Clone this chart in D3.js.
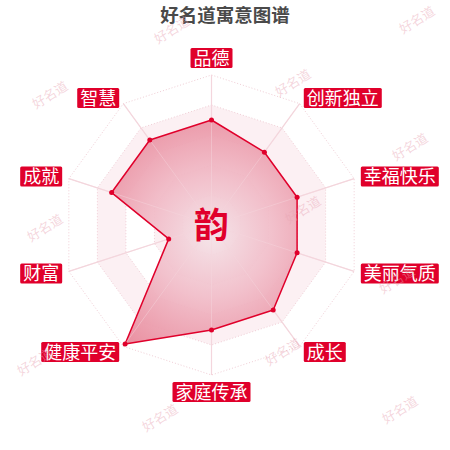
<!DOCTYPE html>
<html>
<head>
<meta charset="utf-8">
<script src="https://cdn.jsdelivr.net/npm/d3@7"></script>
<style>
  html, body { margin: 0; padding: 0; background: #fff; }
  svg { display: block; }
</style>
</head>
<body>
<svg id="chart" width="450" height="450"></svg>
<script>
const title = "好名道寓意图谱";
const centerChar = "韵";
const indicators = ["品德", "创新独立", "幸福快乐", "美丽气质", "成长", "家庭传承", "健康平安", "财富", "成就", "智慧"];
const values = [70, 60, 60, 60, 70, 70, 98, 30, 70, 70];
const maxValue = 100;
const levels = [20, 40, 60, 80, 100];
const watermarkText = "好名道";

const W = 450, H = 450;
const cx = 211.5, cy = 225, R = 150;
const RED = "#e0002b";
const FONT = "'Noto Sans CJK SC', 'Noto Sans', sans-serif";

const svg = d3.select("#chart");
const defs = svg.append("defs");

const grad = defs.append("radialGradient")
  .attr("id", "areaGrad").attr("gradientUnits", "userSpaceOnUse")
  .attr("cx", cx).attr("cy", cy + 12).attr("r", 135);
grad.append("stop").attr("offset", 0).attr("stop-color", "rgb(244,226,231)");
grad.append("stop").attr("offset", 0.45).attr("stop-color", "rgb(241,188,200)");
grad.append("stop").attr("offset", 1).attr("stop-color", "rgb(232,136,154)");

const n = indicators.length;
const angle = d3.scaleLinear().domain([0, n]).range([0, 2 * Math.PI]);
const rScale = d3.scaleLinear().domain([0, maxValue]).range([0, R]);
const pt = (i, r) => [cx + r * Math.sin(angle(i)), cy - r * Math.cos(angle(i))];

const g = svg.append("g");

// split areas (alternating rings)
const ringFills = ["#ffffff", "#fcf0f3", "#ffffff", "#fcf0f3", "#ffffff"];
for (let k = levels.length - 1; k >= 0; k--) {
  const r = rScale(levels[k]);
  const poly = d3.range(n).map(i => pt(i, r));
  g.append("path")
    .attr("d", d3.line()(poly) + "Z")
    .attr("fill", ringFills[k]);
}

// grid polygons (dotted)
levels.forEach(l => {
  const r = rScale(l);
  const poly = d3.range(n).map(i => pt(i, r));
  g.append("path")
    .attr("d", d3.line()(poly) + "Z")
    .attr("fill", "none")
    .attr("stroke", "#f0cdd5")
    .attr("stroke-width", 1)
    .attr("stroke-dasharray", "1,2");
});

// axis lines
d3.range(n).forEach(i => {
  const [x, y] = pt(i, R);
  g.append("line")
    .attr("x1", cx).attr("y1", cy).attr("x2", x).attr("y2", y)
    .attr("stroke", "#f2d3da").attr("stroke-width", 1.2);
});

// data polygon
const dataPts = values.map((v, i) => pt(i, rScale(v)));
g.append("path")
  .attr("d", d3.line()(dataPts) + "Z")
  .attr("fill", "url(#areaGrad)")
  .attr("fill-opacity", 0.93)
  .attr("stroke", RED)
  .attr("stroke-width", 1.5)
  .attr("stroke-linejoin", "round");

// axis lines visible over the area (faint)
d3.range(n).forEach(i => {
  const [x, y] = pt(i, R);
  g.append("line")
    .attr("x1", cx).attr("y1", cy).attr("x2", x).attr("y2", y)
    .attr("stroke", "#f6d9df").attr("stroke-opacity", 0.45).attr("stroke-width", 1);
});

g.selectAll("circle.pt").data(dataPts).enter().append("circle")
  .attr("class", "pt")
  .attr("cx", d => d[0]).attr("cy", d => d[1])
  .attr("r", 2.5).attr("fill", RED);

// center character
svg.append("text")
  .attr("x", cx).attr("y", cy + 13)
  .attr("text-anchor", "middle")
  .attr("font-family", FONT).attr("font-weight", "bold").attr("font-size", 35)
  .attr("fill", RED)
  .text(centerChar);

// indicator labels
const labelR = R + 7;
const fs = 18, boxH = 20, padX = 3;
indicators.forEach((name, i) => {
  const s = Math.sin(angle(i)), c = Math.cos(angle(i));
  const ax = cx + labelR * s, ay = cy - labelR * c;
  const lg = svg.append("g");
  const rect = lg.append("rect").attr("fill", RED).attr("rx", 1.5);
  const t = lg.append("text")
    .attr("font-family", FONT).attr("font-size", fs)
    .attr("fill", "#fff").text(name);
  const tw = t.node().getComputedTextLength();
  const bw = tw + 2 * padX;
  let left;
  if (s > 0.01) left = ax;
  else if (s < -0.01) left = ax - bw;
  else left = ax - bw / 2;
  let top;
  if (c > 0.99) top = ay - boxH;
  else if (c < -0.99) top = ay;
  else top = ay - boxH / 2;
  rect.attr("x", left).attr("y", top).attr("width", bw).attr("height", boxH);
  t.attr("x", left + padX).attr("y", top + boxH / 2 + 0.37 * fs);
});

// title
svg.append("text")
  .attr("x", 225).attr("y", 21.5)
  .attr("text-anchor", "middle")
  .attr("font-family", FONT).attr("font-weight", "bold").attr("font-size", 18.5)
  .attr("fill", "#4a4a4a")
  .text(title);

// watermarks
const marks = [[172, 30], [417, 20], [50, 95], [293, 83], [410, 147], [45, 228], [303, 210],
               [397, 280], [35, 362], [283, 352], [160, 418], [400, 410]];
marks.forEach(([x, y]) => {
  svg.append("text")
    .attr("transform", `translate(${x},${y}) rotate(-32)`)
    .attr("text-anchor", "middle").attr("dy", "0.35em")
    .attr("font-family", FONT).attr("font-size", 13)
    .attr("fill", "#e8a5b3").attr("fill-opacity", 0.45)
    .text(watermarkText);
});
</script>
</body>
</html>
